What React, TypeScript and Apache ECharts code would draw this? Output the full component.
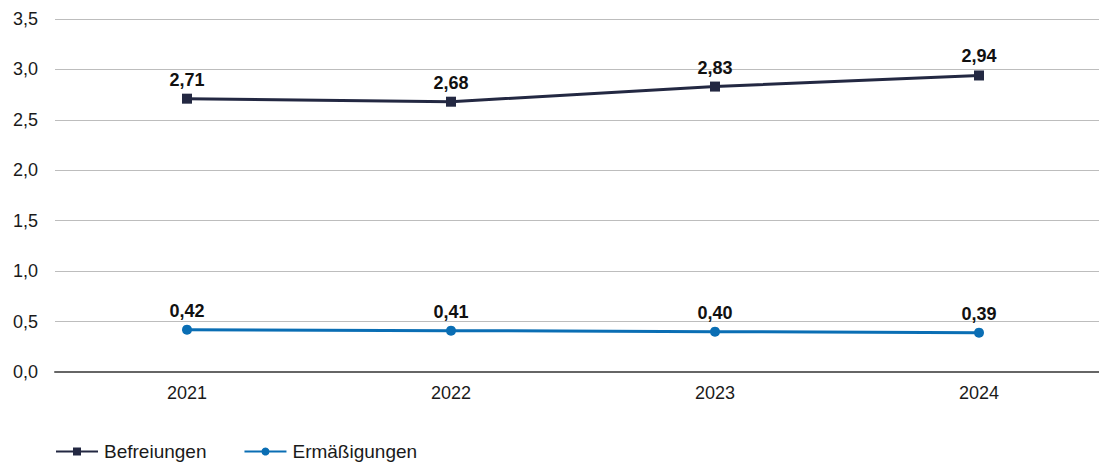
import React, { useEffect, useRef } from "react";
import * as echarts from "echarts";

const years = ["2021", "2022", "2023", "2024"];
const befreiungen = [2.71, 2.68, 2.83, 2.94];
const ermaessigungen = [0.42, 0.41, 0.4, 0.39];
const yTicks = { min: 0, max: 3.5, interval: 0.5 };

const fmt = (v: number, d: number) => v.toFixed(d).replace(".", ",");
const FONT = "'Liberation Sans', Arial, sans-serif";

export default function App() {
  const ref = useRef<HTMLDivElement>(null);
  useEffect(() => {
    document.body.style.margin = "0";
    const chart = echarts.init(ref.current!, undefined, { renderer: "svg" });
    const label = {
      show: true,
      position: "top",
      distance: 5,
      fontFamily: FONT,
      fontSize: 18,
      fontWeight: "bold",
      color: "#111",
      formatter: (p: any) => fmt(p.value, 2),
    };
    chart.setOption({
      animation: false,
      textStyle: { fontFamily: FONT },
      grid: { left: 55, right: 1, top: 19, bottom: 92 },
      legend: {
        left: 55,
        top: 442,
        padding: 0,
        itemWidth: 42,
        itemHeight: 10,
        itemGap: 37,
        textStyle: { fontFamily: FONT, fontSize: 19, color: "#1a1a1a", padding: [0, 0, 0, 1] },
        data: ["Befreiungen", "Ermäßigungen"],
      },
      xAxis: {
        type: "category",
        data: years,
        axisLine: { lineStyle: { color: "#666", width: 2 } },
        axisTick: { show: false },
        axisLabel: { fontFamily: FONT, fontSize: 18, color: "#1a1a1a", margin: 12 },
      },
      yAxis: {
        type: "value",
        ...yTicks,
        axisLabel: {
          fontFamily: FONT,
          fontSize: 18,
          color: "#1a1a1a",
          margin: 17,
          formatter: (v: number) => fmt(v, 1),
        },
        splitLine: { lineStyle: { color: "#bdbdbd", width: 1 } },
      },
      series: [
        {
          name: "Befreiungen",
          type: "line",
          data: befreiungen,
          symbol: "rect",
          symbolSize: 10,
          color: "#232842",
          lineStyle: { width: 3, color: "#232842" },
          itemStyle: { color: "#232842" },
          label,
        },
        {
          name: "Ermäßigungen",
          type: "line",
          data: ermaessigungen,
          symbol: "circle",
          symbolSize: 10,
          color: "#0a6eb4",
          lineStyle: { width: 3, color: "#0a6eb4" },
          itemStyle: { color: "#0a6eb4" },
          label,
        },
      ],
    });
    return () => chart.dispose();
  }, []);
  return (
    <div style={{ width: 1099, height: 464, overflow: "hidden" }}>
      <div ref={ref} style={{ width: 1112, height: 464 }} />
    </div>
  );
}
